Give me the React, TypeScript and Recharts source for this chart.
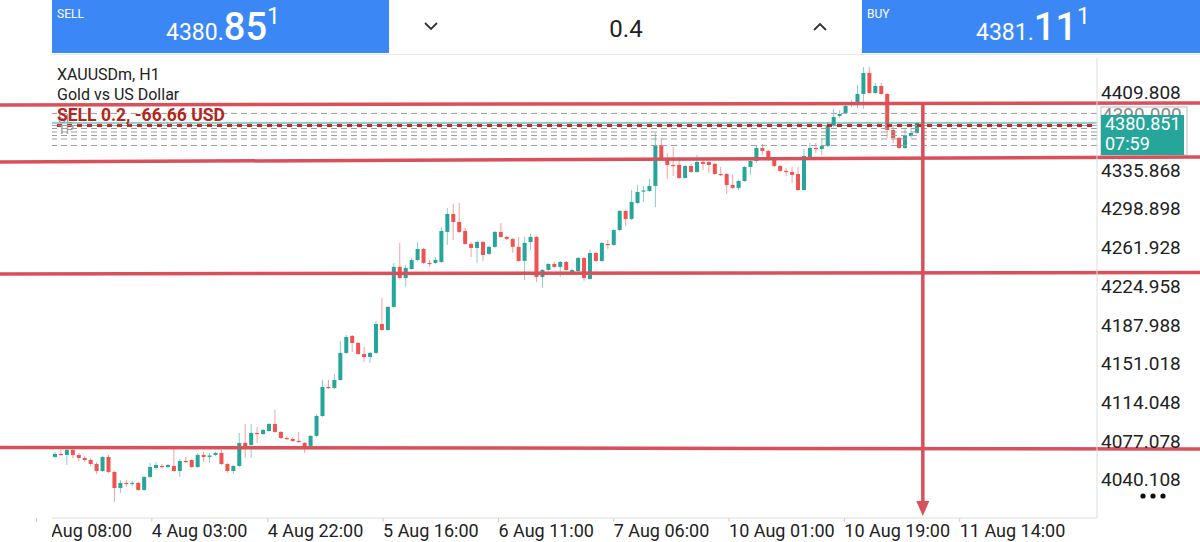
import React from "react";
import { ComposedChart, Bar, XAxis, YAxis, ReferenceLine } from "recharts";

const UP = "#26a69a";
const DOWN = "#ef5350";
const MARK = "#d9505a";

// XAUUSDm H1 candles, left to right
const opens = [
  4062.1, 4065.0, 4064.0, 4068.8, 4064.0, 4061.1, 4059.2, 4055.4, 4048.7, 4062.1,
  4047.8, 4032.5, 4037.3, 4036.3, 4037.3, 4030.6, 4043.0, 4051.6, 4053.5, 4052.5,
  4053.5, 4048.7, 4058.3, 4059.2, 4052.5, 4064.0, 4062.1, 4064.0, 4065.9, 4055.4,
  4048.7, 4053.5, 4075.5, 4073.5, 4085.0, 4084.0, 4086.9, 4093.6, 4086.0, 4080.2,
  4079.3, 4077.4, 4075.5, 4072.6, 4082.2, 4101.2, 4128.9, 4128.0, 4135.6, 4161.4,
  4177.6, 4170.9, 4160.4, 4157.5, 4161.4, 4189.0, 4183.3, 4205.3, 4243.5, 4232.9,
  4241.5, 4250.1, 4260.6, 4247.3, 4247.3, 4248.2, 4276.9, 4294.0, 4286.4, 4277.8,
  4265.4, 4261.6, 4267.3, 4255.9, 4262.6, 4276.9, 4272.1, 4270.2, 4262.6, 4249.2,
  4267.3, 4272.1, 4233.9, 4240.6, 4246.3, 4243.5, 4248.2, 4238.7, 4239.6, 4252.0,
  4232.0, 4256.8, 4249.2, 4265.4, 4264.5, 4278.7, 4296.9, 4289.3, 4304.5, 4315.5,
  4316.0, 4320.8, 4359.9, 4346.5, 4340.8, 4340.8, 4328.4, 4339.8, 4334.1, 4343.7,
  4343.7, 4341.8, 4332.2, 4332.2, 4321.7, 4318.9, 4325.5, 4338.9, 4344.6, 4357.0,
  4354.2, 4345.6, 4339.8, 4335.1, 4334.1, 4332.2, 4316.9, 4347.5, 4357.0, 4356.1,
  4358.9, 4378.0, 4387.6, 4390.4, 4400.0, 4400.9, 4408.6, 4428.6, 4409.5, 4416.2,
  4408.6, 4374.2, 4366.6, 4357.0, 4368.5, 4371.3,
];
const highs = [
  4066.9, 4068.8, 4069.7, 4069.7, 4065.9, 4063.0, 4061.1, 4057.3, 4063.0, 4064.0,
  4048.7, 4040.1, 4040.1, 4039.2, 4038.2, 4044.0, 4056.4, 4057.3, 4055.4, 4055.4,
  4069.7, 4060.2, 4062.1, 4060.2, 4065.9, 4066.9, 4065.9, 4066.9, 4068.8, 4056.4,
  4054.4, 4085.0, 4093.6, 4093.6, 4090.7, 4088.8, 4094.5, 4106.9, 4086.9, 4082.2,
  4081.2, 4086.0, 4076.4, 4083.1, 4103.1, 4135.6, 4135.6, 4141.3, 4172.8, 4178.5,
  4178.5, 4171.8, 4167.1, 4162.3, 4191.9, 4213.9, 4206.2, 4247.3, 4266.4, 4245.4,
  4252.0, 4267.3, 4261.6, 4250.1, 4253.0, 4281.6, 4299.8, 4303.6, 4304.5, 4280.7,
  4267.3, 4268.3, 4268.3, 4263.5, 4277.8, 4285.4, 4273.1, 4271.1, 4272.1, 4272.1,
  4275.0, 4273.1, 4241.5, 4247.3, 4248.2, 4249.2, 4249.2, 4241.5, 4253.0, 4253.0,
  4259.7, 4257.8, 4267.3, 4269.2, 4279.7, 4297.9, 4297.9, 4316.9, 4321.7, 4320.8,
  4327.4, 4371.3, 4366.6, 4352.3, 4358.0, 4348.4, 4340.8, 4341.8, 4350.3, 4347.5,
  4344.6, 4342.7, 4338.9, 4333.2, 4331.3, 4326.5, 4339.8, 4347.5, 4358.9, 4360.8,
  4355.1, 4346.5, 4340.8, 4337.9, 4338.9, 4338.9, 4356.1, 4361.8, 4361.8, 4366.6,
  4381.8, 4394.3, 4393.3, 4400.0, 4402.9, 4417.2, 4434.3, 4434.3, 4419.1, 4419.1,
  4409.5, 4379.0, 4367.6, 4376.1, 4376.1, 4381.8,
];
const lows = [
  4061.1, 4063.0, 4054.4, 4061.1, 4058.3, 4057.3, 4053.5, 4045.9, 4047.8, 4046.8,
  4019.2, 4027.7, 4033.5, 4034.4, 4029.6, 4029.6, 4042.0, 4049.7, 4051.6, 4051.6,
  4047.8, 4043.0, 4056.4, 4051.6, 4051.6, 4057.3, 4056.4, 4063.0, 4054.4, 4046.8,
  4045.9, 4052.5, 4061.1, 4061.1, 4075.5, 4083.1, 4086.0, 4085.0, 4079.3, 4078.3,
  4076.4, 4075.5, 4065.9, 4071.6, 4081.2, 4100.3, 4127.0, 4127.0, 4134.6, 4160.4,
  4162.3, 4159.5, 4152.8, 4151.8, 4160.4, 4182.4, 4182.4, 4204.3, 4232.0, 4224.4,
  4240.6, 4249.2, 4246.3, 4243.5, 4246.3, 4247.3, 4264.5, 4269.2, 4275.9, 4264.5,
  4253.0, 4247.3, 4249.2, 4254.9, 4261.6, 4271.1, 4269.2, 4256.8, 4248.2, 4231.0,
  4259.7, 4229.1, 4223.4, 4239.6, 4242.5, 4233.9, 4239.6, 4237.7, 4238.7, 4230.1,
  4231.0, 4248.2, 4248.2, 4260.6, 4263.5, 4277.8, 4282.6, 4288.3, 4303.6, 4305.5,
  4315.0, 4300.7, 4345.6, 4327.4, 4330.3, 4327.4, 4327.4, 4333.2, 4333.2, 4336.0,
  4333.2, 4331.3, 4330.3, 4313.1, 4317.9, 4316.9, 4324.6, 4331.3, 4342.7, 4350.3,
  4344.6, 4338.9, 4334.1, 4330.3, 4323.6, 4316.0, 4316.0, 4346.5, 4352.3, 4350.3,
  4358.0, 4377.1, 4385.7, 4389.5, 4396.2, 4395.2, 4394.3, 4408.6, 4408.6, 4407.6,
  4366.6, 4361.8, 4356.1, 4356.1, 4366.6, 4370.3,
];
const closes = [
  4065.0, 4064.0, 4068.8, 4064.0, 4061.1, 4059.2, 4055.4, 4048.7, 4062.1, 4047.8,
  4032.5, 4037.3, 4036.3, 4037.3, 4030.6, 4043.0, 4052.5, 4054.4, 4053.0, 4054.4,
  4048.7, 4058.3, 4057.8, 4052.5, 4064.0, 4062.1, 4063.5, 4065.9, 4055.4, 4048.7,
  4053.5, 4075.5, 4071.6, 4085.0, 4084.0, 4087.9, 4093.6, 4086.0, 4080.2, 4079.3,
  4077.4, 4076.4, 4071.6, 4082.2, 4101.2, 4128.9, 4128.0, 4135.6, 4161.4, 4176.6,
  4170.9, 4160.4, 4157.5, 4161.4, 4189.0, 4183.3, 4205.3, 4243.5, 4232.9, 4242.5,
  4250.1, 4260.6, 4247.3, 4246.3, 4250.1, 4277.8, 4294.0, 4286.4, 4276.9, 4265.4,
  4261.6, 4267.3, 4254.9, 4262.6, 4276.9, 4272.1, 4270.2, 4262.6, 4249.2, 4266.4,
  4272.1, 4233.9, 4240.6, 4246.3, 4243.5, 4248.2, 4240.6, 4240.6, 4252.0, 4232.9,
  4256.8, 4249.2, 4266.4, 4264.5, 4278.7, 4296.9, 4289.3, 4305.5, 4315.0, 4316.5,
  4320.8, 4359.9, 4346.5, 4340.8, 4340.3, 4328.4, 4339.8, 4334.1, 4343.7, 4341.8,
  4340.8, 4332.2, 4331.7, 4321.7, 4318.9, 4325.5, 4338.9, 4344.6, 4357.0, 4354.2,
  4345.6, 4339.8, 4335.1, 4334.1, 4331.3, 4316.9, 4349.4, 4357.0, 4356.1, 4358.9,
  4379.0, 4386.6, 4389.5, 4397.1, 4400.9, 4408.6, 4428.6, 4409.5, 4416.2, 4408.6,
  4374.2, 4366.6, 4357.0, 4368.5, 4371.3, 4380.85,
];

// time scale labels sit at these bar positions
const timeTicks = [-3.1, 16.3, 35.8, 55.2, 74.6, 94.0, 113.4, 132.8, 152.2];
const timeLabels = [
  "3 Aug 08:00", "4 Aug 03:00", "4 Aug 22:00", "5 Aug 16:00", "6 Aug 11:00",
  "7 Aug 06:00", "10 Aug 01:00", "10 Aug 19:00", "11 Aug 14:00",
];
const priceTicks = [
  4409.808, 4335.868, 4298.898, 4261.928, 4224.958, 4187.988, 4151.018, 4114.048, 4077.078, 4040.108,
];

const bid = 4380.851;
const sellOpen = 4378.46;
const alertLevel = 4390.0;
const orderLevels = [4375.6, 4372.3, 4368.9, 4365.6, 4359.4];
// hand drawn marks: [left end, right end] in price
const markLines = [
  [4398.1, 4400.0],
  [4343.7, 4348.4],
  [4236.8, 4238.2],
  [4071.2, 4069.7],
];
const markSpan = [-9.5, 193];
const arrowBar = 146;
const arrowFrom = 4399.4;
const arrowTo = 4005.8;

const candles = opens.map((o, i) => ({
  i,
  o,
  h: highs[i],
  l: lows[i],
  c: closes[i],
  hl: [lows[i], highs[i]],
}));

function Candle(props: any) {
  const { x, y, width, height, payload } = props;
  if (x == null || payload == null) return null;
  const { o, c, h, l } = payload;
  const color = c >= o ? UP : DOWN;
  const top = Math.min(y, y + height);
  const full = Math.abs(height);
  const k = h === l ? 0 : full / (h - l);
  const bodyTop = top + (h - Math.max(o, c)) * k;
  const bodyH = Math.max(1.2, Math.abs(o - c) * k);
  const cx = x + width / 2;
  return (
    <g>
      <line x1={cx} x2={cx} y1={top} y2={top + full} stroke={color} strokeOpacity={0.55} strokeWidth={1} />
      <rect x={x} y={bodyTop} width={width} height={bodyH} fill={color} />
    </g>
  );
}

function TimeTick(props: any) {
  const { x, y, payload } = props;
  const k = timeTicks.indexOf(payload.value);
  return (
    <text x={x} y={y + 6} fill="#222" fontSize={18} dominantBaseline="central" clipPath="url(#xlabels)">
      {timeLabels[k]}
    </text>
  );
}

function PriceTick(props: any) {
  const { x, y, payload } = props;
  return (
    <text x={x} y={y} fill="#222" fontSize={19} dominantBaseline="central">
      {payload.value.toFixed(3)}
    </text>
  );
}

function AlertLabel(props: any) {
  const vb = props.viewBox;
  if (!vb) return null;
  return (
    <text x={vb.x + vb.width + 5} y={vb.y + 1} fill="#8a8a8a" fontSize={19} dominantBaseline="central">
      {alertLevel.toFixed(3)}
    </text>
  );
}

function BidLabel(props: any) {
  const vb = props.viewBox;
  if (!vb) return null;
  const x = vb.x + vb.width + 4;
  const y = vb.y;
  return (
    <g>
      <rect x={x} y={y - 16} width={86} height={48} fill="none" stroke="#bdbdbd" strokeWidth={1} />
      <rect x={x} y={y - 8} width={83} height={40} fill={UP} />
      <text x={x + 4} y={y + 1} fill="#fff" fontSize={18} dominantBaseline="central">
        {bid.toFixed(3)}
      </text>
      <text x={x + 4} y={y + 21} fill="#fff" fontSize={18} dominantBaseline="central">
        07:59
      </text>
    </g>
  );
}

function Arrow(props: any) {
  const { x1, y1, x2, y2, stroke } = props;
  return (
    <g>
      <line x1={x1} y1={y1} x2={x2} y2={y2 - 10} stroke={stroke} strokeWidth={3.5} />
      <path d={`M${x2 - 6.5} ${y2 - 15} L${x2 + 6.5} ${y2 - 15} L${x2} ${y2} Z`} fill={stroke} />
    </g>
  );
}

function TopBar() {
  return (
    <svg width={1200} height={56} style={{ position: "absolute", left: 0, top: 0 }}>
      <rect x={52} y={0} width={337} height={53} fill="#3c87f6" />
      <rect x={389} y={0} width={473} height={53} fill="#fff" />
      <rect x={862} y={0} width={338} height={53} fill="#3c87f6" />
      <line x1={52} x2={1200} y1={54.5} y2={54.5} stroke="#e6e6e6" />
      <text x={57} y={18} fill="#fff" fontSize={12}>SELL</text>
      <text x={166} y={40} fill="#fff">
        <tspan fontSize={23}>4380.</tspan>
        <tspan fontSize={38} fontWeight={500}>85</tspan>
        <tspan fontSize={23} dy={-16}>1</tspan>
      </text>
      <path d="M425 23 L431 29 L437 23" stroke="#333" strokeWidth={1.8} fill="none" />
      <text x={626} y={37} fill="#222" fontSize={24} textAnchor="middle">0.4</text>
      <path d="M814 30 L820 24 L826 30" stroke="#333" strokeWidth={1.8} fill="none" />
      <text x={867} y={18} fill="#fff" fontSize={12}>BUY</text>
      <text x={976} y={40} fill="#fff">
        <tspan fontSize={23}>4381.</tspan>
        <tspan fontSize={38} fontWeight={500}>11</tspan>
        <tspan fontSize={23} dy={-16}>1</tspan>
      </text>
    </svg>
  );
}

export default function App() {
  return (
    <div style={{ position: "relative", width: 1200, height: 542, background: "#fff", fontFamily: "Roboto, sans-serif" }}>
      <style>{`body{margin:0;background:#fff}`}</style>
      <div style={{ position: "absolute", left: 0, top: 53 }}>
        <ComposedChart
          width={1200}
          height={489}
          data={candles}
          margin={{ top: 5, right: 0, bottom: 0, left: 52 }}
          style={{ fontFamily: "Roboto, sans-serif" }}
        >
          <defs>
            <clipPath id="xlabels">
              <rect x={52} y={0} width={1148} height={489} />
            </clipPath>
          </defs>
          <XAxis
            dataKey="i"
            type="number"
            domain={[-0.5, 175.3]}
            allowDataOverflow
            ticks={timeTicks}
            interval={0}
            tick={<TimeTick />}
            height={24}
            tickSize={4}
            axisLine={{ stroke: "#ddd" }}
            tickLine={{ stroke: "#ccc" }}
          />
          <YAxis
            orientation="right"
            type="number"
            width={103}
            domain={[4003.83, 4442.89]}
            allowDataOverflow
            ticks={priceTicks}
            interval={0}
            tick={<PriceTick />}
            tickLine={false}
            tickSize={2}
            tickMargin={2}
            axisLine={{ stroke: "#ddd" }}
          />
          <Bar dataKey="hl" barSize={4} shape={<Candle />} isAnimationActive={false} />
          <ReferenceLine y={alertLevel} stroke="#9e9e9e" strokeDasharray="6 4" label={<AlertLabel />} />
          {orderLevels.map((p) => (
            <ReferenceLine key={p} y={p} stroke="#9e9e9e" strokeDasharray="6 4" />
          ))}
          <ReferenceLine y={sellOpen} stroke="#9e9e9e" strokeDasharray="6 4" />
          <ReferenceLine y={sellOpen} stroke="#c62828" strokeWidth={3} strokeDasharray="5 5" strokeDashoffset={5} />
          <ReferenceLine y={bid} stroke={UP} strokeWidth={1} label={<BidLabel />} />
          {markLines.map((m, k) => (
            <ReferenceLine
              key={k}
              segment={[
                { x: markSpan[0], y: m[0] },
                { x: markSpan[1], y: m[1] },
              ]}
              stroke={MARK}
              strokeWidth={3.5}
              ifOverflow="visible"
            />
          ))}
          <ReferenceLine
            segment={[
              { x: arrowBar, y: arrowFrom },
              { x: arrowBar, y: arrowTo },
            ]}
            stroke={MARK}
            ifOverflow="visible"
            shape={(p: any) => <Arrow {...p} />}
          />
        </ComposedChart>
      </div>
      <TopBar />
      <div style={{ position: "absolute", left: 57, top: 65, fontSize: 16, color: "#222", lineHeight: "20px" }}>
        <div>XAUUSDm, H1</div>
        <div>Gold vs US Dollar</div>
      </div>
      <div style={{ position: "absolute", left: 58, top: 113, fontSize: 13, color: "#9a9a9a", lineHeight: "11px" }}>
        <div>SL</div>
        <div>TP</div>
      </div>
      <div style={{ position: "absolute", left: 57, top: 105, fontSize: 17.5, fontWeight: 700, color: "#b3261e", lineHeight: "20px" }}>
        SELL 0.2, -66.66 USD
      </div>
      <svg width={30} height={8} style={{ position: "absolute", left: 1139, top: 492 }}>
        <circle cx={4} cy={4} r={2.6} fill="#111" />
        <circle cx={14} cy={4} r={2.6} fill="#111" />
        <circle cx={24} cy={4} r={2.6} fill="#111" />
      </svg>
    </div>
  );
}
